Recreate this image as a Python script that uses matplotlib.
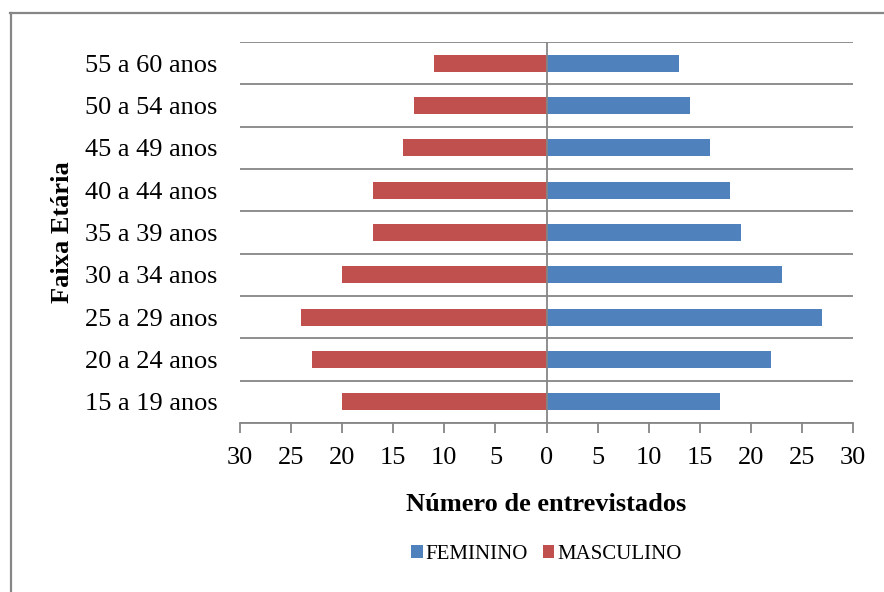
import matplotlib.pyplot as plt
from matplotlib.lines import Line2D
from matplotlib.ticker import FuncFormatter, MultipleLocator

faixas = ["15 a 19 anos", "20 a 24 anos", "25 a 29 anos", "30 a 34 anos",
          "35 a 39 anos", "40 a 44 anos", "45 a 49 anos", "50 a 54 anos",
          "55 a 60 anos"]
feminino = [17, 22, 27, 23, 19, 18, 16, 14, 13]
masculino = [20, 23, 24, 20, 17, 17, 14, 13, 11]

azul = "#4F81BD"
vermelho = "#C0504D"
cinza = "#868686"

plt.rcParams["font.family"] = ["Liberation Serif", "DejaVu Serif"]

fig = plt.figure(figsize=(8.84, 5.92), dpi=100)
ax = fig.add_axes([0.2715, 0.2855, 0.6935, 0.6436])

pos = range(len(faixas))
ax.barh(pos, feminino, height=0.4, color=azul, label="FEMININO")
ax.barh(pos, [-m for m in masculino], height=0.4, color=vermelho, label="MASCULINO")

ax.set_xlim(-30, 30)
ax.set_ylim(-0.5, len(faixas) - 0.5)
ax.xaxis.set_major_locator(MultipleLocator(5))
ax.xaxis.set_major_formatter(FuncFormatter(lambda v, p: f"{abs(int(v))}"))

# linhas entre categorias
for i in range(len(faixas) + 1):
    ax.axhline(i - 0.5, color=cinza, lw=1.3, zorder=0)
ax.axvline(0, color=cinza, lw=1.3, zorder=3)

ax.set_yticks(list(pos))
ax.set_yticklabels(faixas)
ax.tick_params(axis="y", length=0, pad=16, labelsize=19)
ax.tick_params(axis="x", length=7, width=1.3, color=cinza, labelsize=19, pad=10.5)

for s in ["left", "right", "top"]:
    ax.spines[s].set_visible(False)
ax.spines["bottom"].set_color(cinza)
ax.spines["bottom"].set_linewidth(1.3)

ax.set_xlabel("Número de entrevistados", fontsize=19, fontweight="bold", labelpad=17)
ax.set_ylabel("Faixa Etária", fontsize=19, fontweight="bold", labelpad=8)

ax.legend(loc="upper center", bbox_to_anchor=(0.5, -0.27), ncol=2, frameon=False,
          fontsize=15, handlelength=0.55, handleheight=0.55, handletextpad=0.15,
          columnspacing=0.7)

# moldura do grafico (so esquerda e topo aparecem)
fig.lines.append(Line2D([10.5 / 884, 10.5 / 884], [0, 1 - 12.5 / 592],
                        transform=fig.transFigure, color=cinza, lw=1.6))
fig.lines.append(Line2D([10 / 884, 1], [1 - 12.5 / 592, 1 - 12.5 / 592],
                        transform=fig.transFigure, color=cinza, lw=1.6))

fig.savefig("out.png", dpi=100)
